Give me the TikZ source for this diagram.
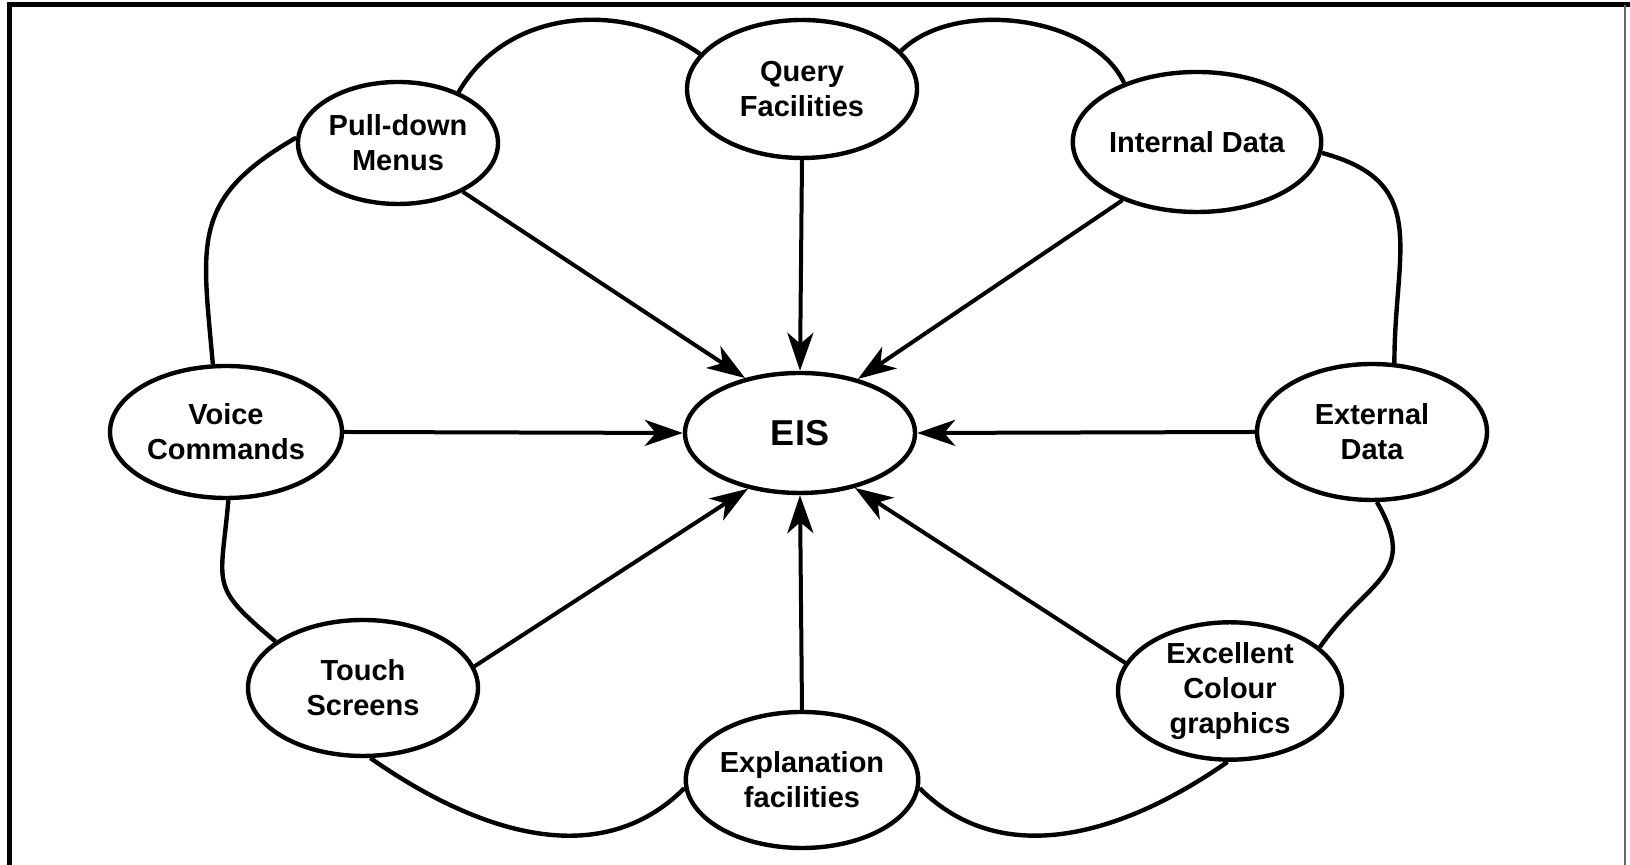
\documentclass[tikz,border=0pt]{standalone}
\usepackage{fontspec}
\setmainfont{Liberation Sans}
\usetikzlibrary{shapes.geometric,arrows.meta}
\begin{document}
\begin{tikzpicture}[x=0.5pt,y=0.5pt,
  bubble/.style={ellipse, draw, line width=2.2pt, inner sep=0pt, align=center,
    font=\bfseries\fontsize{14.5}{17.5}\selectfont,
    minimum width=115pt, minimum height=68pt},
  feed/.style={line width=2pt, -{Stealth[length=19pt,width=13pt,inset=5.5pt]}},
  rim/.style={line width=2.2pt}]
\useasboundingbox (0,0) rectangle (1630,865);
% frame
\draw[line width=2.5pt] (9.5,0) -- (9.5,860) -- (1630,860);
\draw[line width=1pt, black!60] (1625,0) -- (1625,860);

% central system and its feeders
\node[bubble, minimum height=60pt, font=\bfseries\fontsize{18}{20}\selectfont] (eis) at (800,432) {EIS};
\node[bubble, minimum height=69pt] (query) at (802,776) {Query\\Facilities};
\node[bubble, minimum height=70pt] (internal) at (1197,723) {Internal Data};
\node[bubble] (external) at (1372,433) {External\\Data};
\node[bubble, minimum width=112pt] (colour) at (1230,174) {Excellent\\Colour\\graphics};
\node[bubble] (explain) at (802,85) {Explanation\\facilities};
\node[bubble] (touch) at (363,177) {Touch\\Screens};
\node[bubble, minimum width=116pt, minimum height=66pt] (voice) at (226,433) {Voice\\Commands};
\node[bubble, minimum width=100pt, minimum height=61pt] (pull) at (398,722) {Pull-down\\Menus};

% arrows into EIS
\draw[feed] (pull.-37) -- (eis.135);
\draw[feed] (query.south) -- (eis.north);
\draw[feed] (internal.218) -- (eis.43);
\draw[feed] (voice.east) -- (eis.west);
\draw[feed] (external.west) -- (eis.east);
\draw[feed] (touch.11) -- (eis.227);
\draw[feed] (explain.north) -- (eis.south);
\draw[feed] (colour.165) -- (eis.-45);

% outer rim linking neighbouring bubbles
\draw[rim] (pull.40) to[out=60,in=145] (query.161);
\draw[rim] (query.21) to[out=45,in=115,looseness=0.85] (internal.141);
\draw[rim] (internal.-5) to[out=-15,in=90,looseness=1.3] (external.72);
\draw[rim] (external.274) to[out=-60,in=55,looseness=1.4] (colour.26);
\draw[rim] (colour.268) to[out=-145,in=-45,looseness=1] (explain.-4);
\draw[rim] (explain.184) to[out=-135,in=-35,looseness=1] (touch.276);
\draw[rim] (touch.152) to[out=140,in=-95,looseness=1.5] (voice.272);
\draw[rim] (voice.101) to[out=95,in=-150,looseness=1.3] (pull.177);
\end{tikzpicture}
\end{document}
